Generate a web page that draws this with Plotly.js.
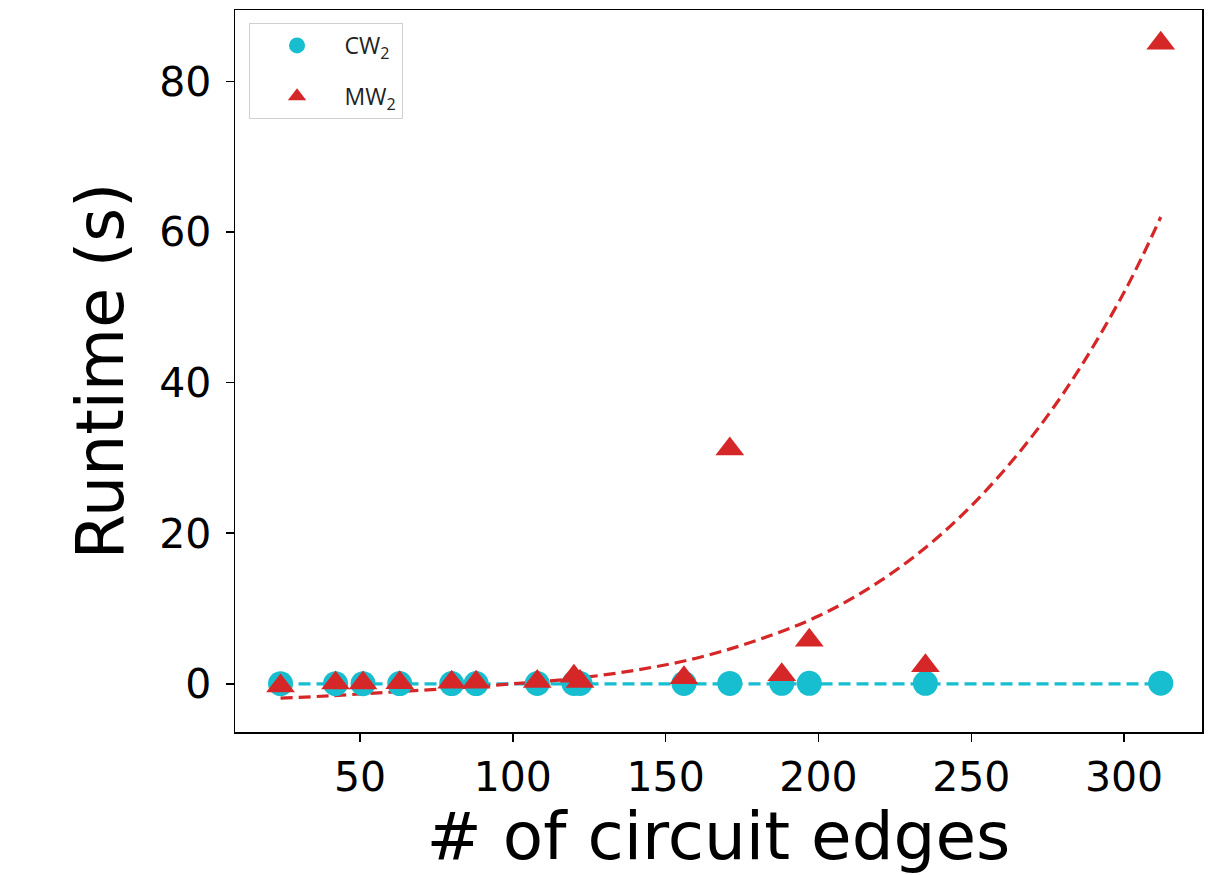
<!DOCTYPE html>
<html>
<head>
<meta charset="utf-8">
<script src="https://cdn.plot.ly/plotly-3.0.1.min.js"></script>
<style>
  html, body { margin: 0; padding: 0; background: #fff; }
  #chart { width: 1216px; height: 875px; }
</style>
</head>
<body>
<div id="chart"></div>
<script>
// Number of circuit edges for each benchmark circuit
const edges = [24, 42, 51, 63, 80, 88, 108, 120, 122, 156, 171, 188, 197, 235, 312];
// Runtime (s) of CW2
const cwRuntime = [0.02, 0.02, 0.02, 0.03, 0.03, 0.03, 0.04, 0.04, 0.04, 0.05, 0.05, 0.06, 0.06, 0.07, 0.09];
// Runtime (s) of MW2
const mwRuntime = [-0.3, 0.1, 0.1, 0.15, 0.2, 0.2, 0.3, 1.0, 0.3, 0.8, 31.2, 1.2, 5.8, 2.4, 85.1];

// Fitted trend curves
const cwFitX = [24, 312];
const cwFitY = [0.0, 0.0];
const mwFitX = [24, 40, 60, 80, 100, 120, 140, 160, 180, 200, 220, 240, 260, 280, 300, 312];
const mwFitY = [-1.9, -1.6, -1.1, -0.6, 0.0, 0.7, 1.8, 3.4, 5.8, 9.0, 13.6, 19.8, 28.0, 38.5, 52.0, 62.0];

const cyan = '#17becf';
const red = '#d62728';

const traces = [
  {
    x: cwFitX, y: cwFitY, mode: 'lines', showlegend: false, hoverinfo: 'skip',
    line: { color: cyan, width: 3.2, dash: '12px,6px' }
  },
  {
    x: mwFitX, y: mwFitY, mode: 'lines', showlegend: false, hoverinfo: 'skip',
    line: { color: red, width: 3.2, dash: '12px,6px', shape: 'spline' }
  },
  {
    x: edges, y: cwRuntime, mode: 'markers', name: 'CW<sub>2</sub>', legendgroup: 'a',
    marker: { symbol: 'circle', size: 25, color: cyan }
  },
  {
    x: edges, y: mwRuntime, mode: 'markers', name: 'MW<sub>2</sub>', legendgroup: 'b',
    marker: { symbol: 'triangle-up', size: 25, color: red }
  }
];

const axisCommon = {
  showline: true, mirror: true, linecolor: '#000', linewidth: 1.5,
  ticks: 'outside', ticklen: 8, tickwidth: 1.5, tickcolor: '#000',
  showgrid: false, zeroline: false,
  tickfont: { family: 'DejaVu Sans', size: 41, color: '#000' }
};

const layout = {
  width: 1216, height: 875,
  margin: { l: 235, r: 14, t: 10, b: 143 },
  paper_bgcolor: '#fff', plot_bgcolor: '#fff',
  font: { family: 'DejaVu Sans', color: '#000' },
  xaxis: Object.assign({}, axisCommon, {
    range: [9.1, 325.5],
    tickvals: [50, 100, 150, 200, 250, 300],
    title: { text: '# of circuit edges', font: { family: 'DejaVu Sans', size: 66, color: '#000' }, standoff: 4 }
  }),
  yaxis: Object.assign({}, axisCommon, {
    range: [-6.4, 89.5],
    tickvals: [0, 20, 40, 60, 80],
    ticklabelstandoff: 6,
    title: { text: 'Runtime (s)', font: { family: 'DejaVu Sans', size: 65, color: '#000' }, standoff: 14 }
  }),
  legend: {
    x: 0.014, y: 0.982, xanchor: 'left', yanchor: 'top',
    bgcolor: '#fff', bordercolor: '#d0d0d0', borderwidth: 1,
    font: { family: 'Open Sans', size: 23, color: '#222' },
    tracegroupgap: 18, traceorder: 'grouped', itemwidth: 85
  },
  showlegend: true
};

Plotly.newPlot('chart', traces, layout, { displayModeBar: false, staticPlot: true });
</script>
</body>
</html>
